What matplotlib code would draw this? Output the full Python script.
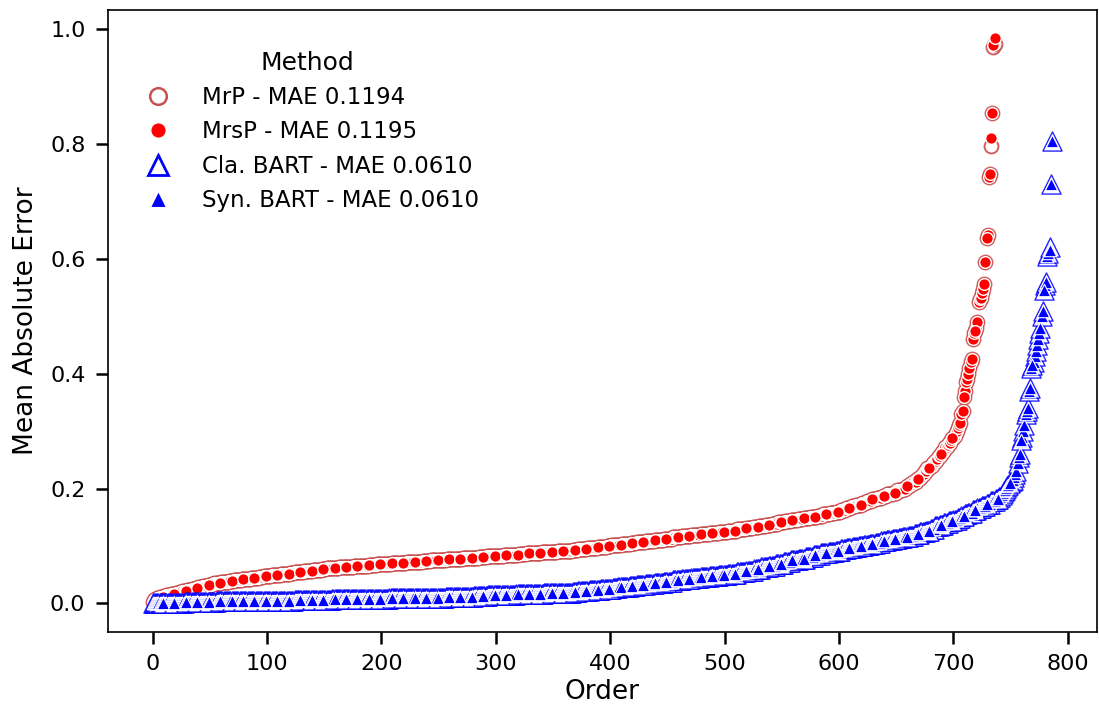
import numpy as np
import matplotlib.pyplot as plt
from matplotlib.lines import Line2D

plt.rcParams['font.family'] = 'DejaVu Sans'

# sorted MAE per area
# bulk of each curve stored as (level, count) runs, steep tail point by point
mrp_levels = [0.003, 0.006, 0.008, 0.010, 0.011, 0.012,
              0.013, 0.014, 0.015, 0.016, 0.017, 0.018, 0.019, 0.020, 0.021, 0.022, 0.023, 0.024,
              0.025, 0.026, 0.027, 0.028, 0.029, 0.030, 0.031, 0.032, 0.033, 0.034, 0.035,
              0.036, 0.037, 0.038, 0.039, 0.040, 0.041, 0.042, 0.043, 0.044, 0.045, 0.046, 0.047,
              0.048, 0.049, 0.050, 0.051, 0.052, 0.053, 0.054, 0.055, 0.056, 0.057, 0.058, 0.059, 0.060, 0.061,
              0.062, 0.063, 0.064, 0.065, 0.066, 0.067, 0.068, 0.069, 0.070,
              0.071, 0.072, 0.073, 0.074, 0.075, 0.076, 0.077, 0.078, 0.079, 0.080, 0.081, 0.082,
              0.083, 0.084, 0.085, 0.086, 0.087, 0.088, 0.089, 0.090, 0.091, 0.092,
              0.093, 0.094, 0.095, 0.096, 0.097, 0.098, 0.099, 0.100, 0.101, 0.102, 0.103, 0.104, 0.105,
              0.107, 0.109, 0.111, 0.113, 0.115, 0.117, 0.119, 0.121, 0.123, 0.125, 0.127, 0.129,
              0.131, 0.133, 0.135, 0.137, 0.139, 0.141, 0.143, 0.145, 0.147, 0.149, 0.151, 0.153, 0.155, 0.157,
              0.160, 0.163, 0.166, 0.169, 0.172, 0.175, 0.178, 0.181, 0.184, 0.187, 0.190, 0.193, 0.197,
              0.200, 0.204, 0.208, 0.212, 0.216, 0.220, 0.225, 0.230, 0.235, 0.240, 0.244,
              0.248, 0.252, 0.256, 0.260, 0.264, 0.268, 0.272, 0.276, 0.280, 0.284, 0.288, 0.292, 0.297]
mrp_counts = [1, 1, 2, 2, 2, 2,
              2, 2, 2, 2, 2, 2, 2, 2, 2, 2, 2, 2,
              2, 2, 2, 2, 2, 2, 2, 2, 2, 2, 2,
              4, 4, 3, 4, 4, 3, 4, 4, 3, 4, 4, 3,
              4, 4, 4, 4, 4, 4, 4, 4, 4, 4, 4, 4, 4, 5,
              6, 7, 6, 7, 6, 7, 6, 7, 6,
              7, 7, 7, 7, 7, 7, 7, 7, 7, 7, 7, 8,
              7, 7, 6, 7, 7, 6, 7, 7, 6, 7,
              5, 4, 4, 4, 5, 4, 4, 4, 5, 4, 4, 4, 5,
              8, 8, 8, 8, 8, 8, 8, 8, 8, 8, 8, 8,
              6, 5, 6, 5, 6, 6, 5, 6, 5, 6, 6, 5, 6, 5,
              5, 4, 5, 4, 5, 4, 5, 4, 5, 4, 5, 4, 5,
              3, 3, 3, 3, 3, 2, 2, 2, 3, 2, 2,
              2, 1, 2, 1, 2, 1, 2, 1, 2, 1, 2, 1, 1]
mrp_tail = [0.300, 0.305, 0.310, 0.315, 0.330, 0.335, 0.360, 0.370, 0.385, 0.390, 0.400,
            0.410, 0.420, 0.425, 0.460, 0.470, 0.475, 0.480, 0.490, 0.525, 0.530, 0.532,
            0.540, 0.548, 0.556, 0.595, 0.637, 0.641, 0.742, 0.748, 0.796, 0.853, 0.968, 0.974]
mrsp_tail = [0.300, 0.305, 0.310, 0.315, 0.330, 0.335, 0.360, 0.370, 0.385, 0.390, 0.400,
             0.410, 0.420, 0.425, 0.460, 0.470, 0.475, 0.480, 0.490, 0.525, 0.530, 0.532,
             0.540, 0.548, 0.556, 0.595, 0.637, 0.641, 0.742, 0.748, 0.810, 0.853, 0.972, 0.984]

bart_levels = [0.000, 0.001, 0.002, 0.003,
               0.004, 0.005, 0.006,
               0.007, 0.008, 0.009, 0.010,
               0.011, 0.012, 0.013, 0.014, 0.015, 0.016, 0.017, 0.018, 0.019,
               0.020, 0.021, 0.022, 0.023, 0.024, 0.025, 0.026, 0.027, 0.028, 0.029, 0.030,
               0.032, 0.034, 0.036, 0.038, 0.040, 0.042, 0.044, 0.046, 0.048, 0.050, 0.052, 0.054,
               0.057, 0.060, 0.063, 0.066, 0.069, 0.072, 0.075, 0.078, 0.081, 0.084, 0.087, 0.090,
               0.092, 0.094, 0.096, 0.098, 0.100, 0.102, 0.104, 0.106, 0.108, 0.110, 0.112, 0.114,
               0.115, 0.118, 0.121, 0.124, 0.127, 0.130,
               0.134, 0.137, 0.140, 0.143, 0.146, 0.149, 0.152, 0.155,
               0.158, 0.162, 0.166, 0.170, 0.174, 0.178, 0.182,
               0.186, 0.189, 0.192, 0.195, 0.198, 0.201, 0.204, 0.207, 0.210, 0.213]
bart_counts = [14, 14, 14, 14,
               34, 34, 33,
               25, 25, 25, 24,
               12, 13, 12, 12, 13, 12, 12, 13, 12,
               5, 5, 5, 5, 5, 5, 5, 5, 5, 5, 6,
               8, 8, 8, 8, 8, 8, 8, 8, 8, 8, 8, 8,
               7, 6, 7, 6, 7, 6, 7, 6, 7, 6, 7, 6,
               5, 5, 5, 5, 5, 5, 5, 5, 5, 5, 5, 4,
               5, 5, 5, 5, 4, 4,
               4, 4, 4, 4, 4, 3, 3, 3,
               4, 4, 4, 4, 4, 4, 3,
               2, 1, 1, 1, 1, 1, 1, 1, 1, 2]
cla_tail = [0.215, 0.220, 0.225, 0.230, 0.245, 0.255, 0.260, 0.285, 0.290, 0.300, 0.310, 0.330,
            0.335, 0.340, 0.370, 0.375, 0.410, 0.415, 0.420, 0.430, 0.440, 0.450, 0.460, 0.470,
            0.480, 0.500, 0.510, 0.545, 0.555, 0.560, 0.605, 0.610, 0.620, 0.730, 0.805]
syn_tail = [0.215, 0.220, 0.225, 0.230, 0.245, 0.255, 0.260, 0.285, 0.290, 0.300, 0.310, 0.330,
            0.335, 0.340, 0.370, 0.375, 0.410, 0.415, 0.420, 0.430, 0.440, 0.450, 0.460, 0.470,
            0.480, 0.500, 0.510, 0.545, 0.555, 0.560, 0.605, 0.610, 0.615, 0.730, 0.805]

labels = ['MrP - MAE 0.1194', 'MrsP - MAE 0.1195',
          'Cla. BART - MAE 0.0610', 'Syn. BART - MAE 0.0610']

mrp = np.concatenate([np.repeat(mrp_levels, mrp_counts), mrp_tail])
mrsp = np.concatenate([np.repeat(mrp_levels, mrp_counts), mrsp_tail])
cla = np.concatenate([np.repeat(bart_levels, bart_counts), cla_tail])
syn = np.concatenate([np.repeat(bart_levels, bart_counts), syn_tail])


def interleaved(n, step=10):
    # points were not drawn left to right in the original, so draw them in strided passes
    return np.concatenate([np.arange(k, n, step) for k in range(step)])


fig = plt.figure(figsize=(10.99, 7.13), dpi=100)
ax = fig.add_axes([0.098, 0.114, 0.900, 0.872])

i = interleaved(len(mrp))
ax.scatter(i, mrp[i], s=100, marker='o', facecolors='white',
           edgecolors='#c85050', linewidths=1.4, alpha=0.9, zorder=2)
i = interleaved(len(mrsp))
ax.scatter(i, mrsp[i], s=70, marker='o', facecolors='red',
           edgecolors='white', linewidths=1.0, zorder=3)
i = interleaved(len(cla))
ax.scatter(i, cla[i], s=190, marker='^', facecolors='white',
           edgecolors='blue', linewidths=1.0, alpha=0.85, zorder=4)
i = interleaved(len(syn))
ax.scatter(i, syn[i], s=80, marker='^', facecolors='blue',
           edgecolors='white', linewidths=0.8, zorder=5)

for side in ['left', 'right', 'top', 'bottom']:
    ax.spines[side].set_linewidth(1.2)

ax.set_xlabel('Order', fontsize=19, labelpad=4)
ax.set_ylabel('Mean Absolute Error', fontsize=19, labelpad=8)
ax.set_xticks([0, 100, 200, 300, 400, 500, 600, 700, 800])
ax.set_yticks([0.0, 0.2, 0.4, 0.6, 0.8, 1.0])
ax.tick_params(labelsize=16, length=8.5, width=1.8, pad=7.5)

handles = [
    Line2D([0], [0], ls='none', marker='o', ms=12, mfc='white', mec='#c85050', mew=1.8),
    Line2D([0], [0], ls='none', marker='o', ms=11, mfc='red', mec='white', mew=0.8),
    Line2D([0], [0], ls='none', marker='^', ms=14, mfc='white', mec='blue', mew=2.0),
    Line2D([0], [0], ls='none', marker='^', ms=12, mfc='blue', mec='white', mew=0.8),
]
leg = ax.legend(handles, labels, title='Method', loc='upper left', bbox_to_anchor=(0.007, 0.968),
                frameon=False, fontsize=16.5, title_fontsize=18, handletextpad=0.9)

plt.savefig('out.png', dpi=100)
